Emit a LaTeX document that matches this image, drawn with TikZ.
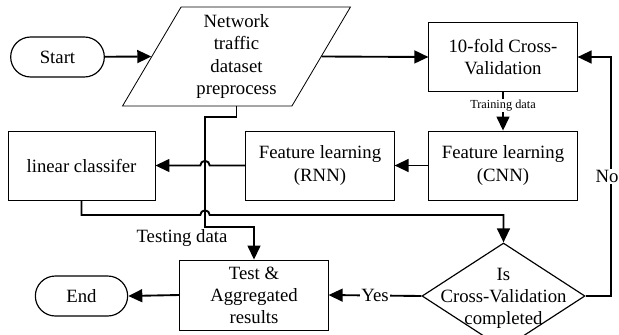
\documentclass[tikz,border=0pt]{standalone}
\usepackage{fontspec}
\setmainfont{Liberation Serif}
\usetikzlibrary{arrows.meta,positioning,shapes.geometric,shapes.misc}

\begin{document}
\begin{tikzpicture}[
  x=0.03cm, y=-0.03cm,
  font=\fontsize{16}{18.8}\selectfont,
  >={Triangle[length=12pt,width=11pt]},
  block/.style={draw=black, line width=0.7pt, align=center,
    minimum width=4.45cm, minimum height=2.07cm, inner sep=2pt, fill=white},
  term/.style={draw=black, line width=1pt, rounded rectangle, align=center,
    minimum width=2.95cm, minimum height=1.2cm, inner sep=2pt},
  io/.style={draw=black, line width=0.7pt, trapezium, trapezium left angle=63,
    trapezium right angle=117, trapezium stretches=true, align=center,
    minimum width=6.85cm, minimum height=2.97cm, inner sep=0pt},
  decision/.style={draw=black, line width=1pt, diamond, aspect=1.54,
    minimum width=4.89cm, minimum height=3.18cm, inner sep=0pt},
  flow/.style={->, line width=1.6pt},
  lbl/.style={fill=white, inner sep=1pt}
]
  \useasboundingbox (0,0) rectangle (619,334);

  % top row
  \node[term] (start) at (57.5,57) {Start};
  \node[io] (data) at (236.5,56.5) {Network\\traffic\\dataset\\preprocess};
  \node[block] (cv) at (503,57) {10-fold Cross-\\Validation};

  % learning row
  \node[block] (cnn) at (503,165.5) {Feature learning\\(CNN)};
  \node[block] (rnn) at (320,165.5) {Feature learning\\(RNN)};
  \node[block, minimum width=4.41cm] (lin) at (81.5,165.5) {linear classifer};

  % bottom row
  \node[block, minimum height=2.1cm] (test) at (254,295) {Test \&\\Aggregated\\results};
  \node[term, minimum width=2.91cm] (end) at (81.5,296) {End};
  \node[decision] (dec) at (503.5,296) {};
  \node[align=center] (dectext) at ([yshift=-2pt]dec.center) {Is\\Cross-Validation\\completed};

  % crossing points
  \coordinate (hopa) at (205,165.5);
  \coordinate (hopb) at (205,215);
  \coordinate (split) at (205,227);
  \node (testlbl) at (182,238) {Testing data};

  \draw[flow] (start) -- (data.west);
  \draw[flow] (data.east) -- (cv.west);
  \draw[flow] (cv.south) -- node[lbl, pos=0.35, font=\fontsize{10.5}{12}\selectfont] {Training data} (cnn.north);
  \draw[flow] (cnn.west) -- (rnn.east);
  \draw[flow] (rnn.west) -- ([xshift=4pt]hopa) arc[start angle=0, end angle=180, radius=4pt] -- (lin.east);
  \draw[flow] (lin.south) |- ([xshift=-4pt]hopb) arc[start angle=180, end angle=0, radius=4pt] -| (dec.north);
  \draw[flow] (data.south) -- ++(0,11) -| (split) -| (test.north);
  \draw[flow] (dec.west) -- node[lbl] {Yes} (test.east);
  \draw[flow] (dec.east) -- ++(25,0) |- node[lbl, pos=0.25, xshift=-3pt] {No} (cv.east);
  \draw[flow] (test.west) -- (end.east);
\end{tikzpicture}
\end{document}
